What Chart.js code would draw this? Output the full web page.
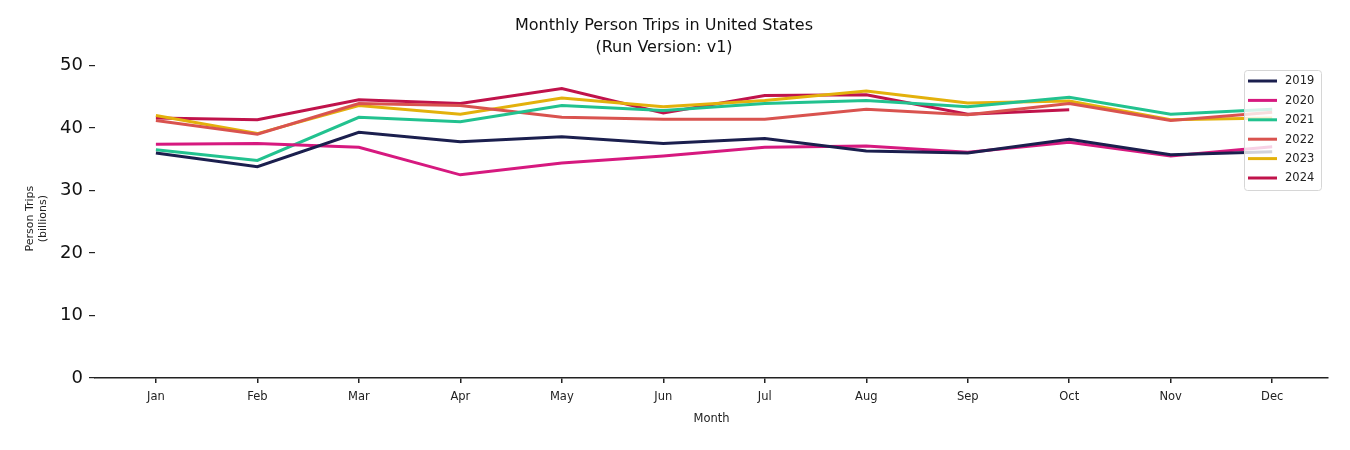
<!DOCTYPE html>
<html>
<head>
<meta charset="utf-8">
<script src="https://cdn.jsdelivr.net/npm/chart.js@4"></script>
<style>
  html, body { margin: 0; padding: 0; background: #fff; }
  #wrap { width: 1350px; height: 450px; }
</style>
</head>
<body>
<div id="wrap"><canvas id="myChart" width="1350" height="450"></canvas></div>
<script>
const months = ["Jan", "Feb", "Mar", "Apr", "May", "Jun", "Jul", "Aug", "Sep", "Oct", "Nov", "Dec"];
const years = ["2019", "2020", "2021", "2022", "2023", "2024"];
const trips2019 = [36.0, 33.8, 39.3, 37.8, 38.6, 37.5, 38.3, 36.3, 36.0, 38.2, 35.7, 36.2];
const trips2020 = [37.4, 37.5, 36.9, 32.5, 34.4, 35.5, 36.9, 37.1, 36.1, 37.7, 35.5, 37.0];
const trips2021 = [36.5, 34.8, 41.7, 41.0, 43.6, 42.8, 43.9, 44.4, 43.4, 44.9, 42.2, 43.0];
const trips2022 = [41.2, 39.0, 43.9, 43.6, 41.7, 41.4, 41.4, 43.0, 42.1, 43.9, 41.2, 42.5];
const trips2023 = [42.0, 39.1, 43.6, 42.2, 44.8, 43.4, 44.4, 45.9, 44.0, 44.3, 41.3, 41.6];
const trips2024 = [41.6, 41.3, 44.5, 43.9, 46.3, 42.4, 45.2, 45.3, 42.2, 42.9, null, null];
const yTicks = [0, 10, 20, 30, 40, 50];
const colores = ["#1b1f4e", "#d6197f", "#22c28f", "#d9534f", "#e3b10c", "#c0134b"];

const series = [trips2019, trips2020, trips2021, trips2022, trips2023, trips2024];
const font = "'DejaVu Sans', sans-serif";

// leyenda dibujada dentro del area del grafico, arriba a la derecha
const leyenda = {
  id: "leyenda",
  afterDatasetsDraw(chart) {
    const c = chart.ctx;
    const x0 = 1244, y0 = 70, w = 77, h = 120;
    c.save();
    c.fillStyle = "rgba(255,255,255,0.8)";
    c.strokeStyle = "#d6d6d6";
    c.lineWidth = 1;
    c.beginPath();
    c.roundRect(x0 + 0.5, y0 + 0.5, w, h, 3);
    c.fill();
    c.stroke();
    c.font = "11.5px " + font;
    c.textBaseline = "middle";
    c.fillStyle = "#222";
    chart.data.datasets.forEach((ds, i) => {
      const y = y0 + 11 + i * 19.4;
      c.strokeStyle = ds.borderColor;
      c.lineWidth = 3;
      c.beginPath();
      c.moveTo(x0 + 4, y);
      c.lineTo(x0 + 33, y);
      c.stroke();
      c.fillText(ds.label, x0 + 41, y + 0.5);
    });
    c.restore();
  },
};

const ctx = document.getElementById("myChart");
const myChart = new Chart(ctx, {
  type: "line",
  data: {
    datasets: years.map((y, i) => ({
      label: y,
      data: series[i].map((v, j) => ({ x: j, y: v })),
      borderColor: colores[i],
      backgroundColor: colores[i],
      borderWidth: 3,
      pointRadius: 0,
      tension: 0,
      spanGaps: false,
    })),
  },
  options: {
    responsive: false,
    animation: false,
    layout: { padding: { left: 0, right: 22, top: 0, bottom: 24 } },
    plugins: {
      legend: { display: false },
      tooltip: { enabled: false },
      title: {
        display: true,
        text: ["Monthly Person Trips in United States", "(Run Version: v1)"],
        color: "#111",
        font: { family: font, size: 16, weight: "normal", lineHeight: 1.35 },
        padding: { top: 15, bottom: 1 },
      },
    },
    scales: {
      x: {
        type: "linear",
        min: -0.6,
        max: 11.55,
        afterBuildTicks: (s) => { s.ticks = months.map((m, i) => ({ value: i })); },
        afterFit: (s) => { s.height = 48; },
        ticks: {
          callback: (v) => months[v],
          color: "#222",
          font: { family: font, size: 11.5 },
          padding: 7,
          maxRotation: 0,
          autoSkip: false,
        },
        grid: { drawOnChartArea: false, tickLength: 5, color: "#222", lineWidth: 1.5 },
        border: { display: true, color: "#222", width: 1.5 },
        title: {
          display: true,
          text: "Month",
          color: "#222",
          font: { family: font, size: 11.5, lineHeight: 1.2 },
          padding: { top: 0, bottom: 0 },
        },
      },
      y: {
        min: 0,
        max: 51,
        afterBuildTicks: (s) => { s.ticks = yTicks.map((v) => ({ value: v })); },
        afterFit: (s) => { s.width = 95; },
        ticks: {
          color: "#111",
          font: { family: font, size: 18 },
          padding: 6,
        },
        grid: { drawOnChartArea: false, tickLength: 6, color: "#222", lineWidth: 1.2 },
        border: { display: false },
        title: {
          display: true,
          text: ["Person Trips", "(billions)"],
          color: "#222",
          font: { family: font, size: 11, lineHeight: 1.25 },
          padding: { top: 23, bottom: 0 },
        },
      },
    },
  },
  plugins: [leyenda],
});
</script>
</body>
</html>
